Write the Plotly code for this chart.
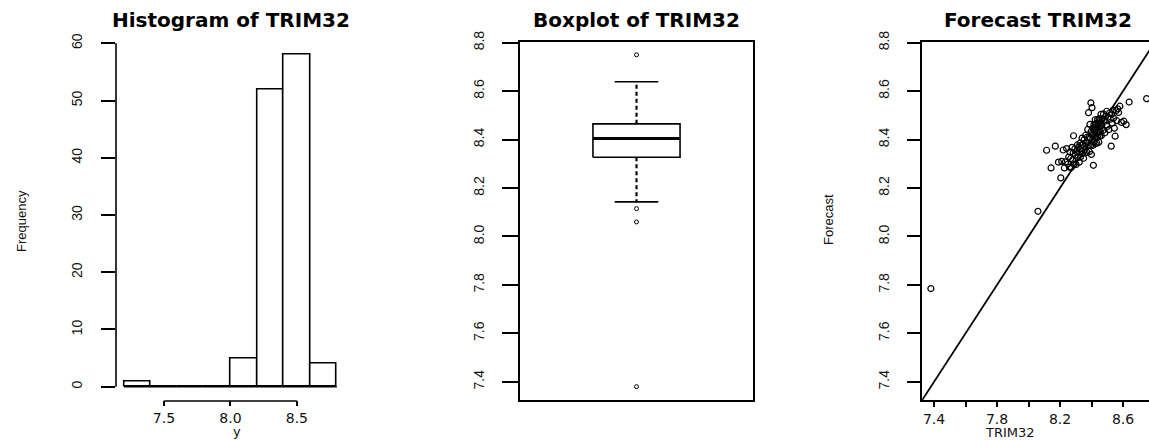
import plotly.graph_objects as go

W, H = 1149, 441

# ---------------- data ----------------
hist_edges = [7.2, 7.4, 7.6, 7.8, 8.0, 8.2, 8.4, 8.6, 8.8]
hist_counts = [1, 0, 0, 0, 5, 52, 58, 4]
hist_xticks = [7.5, 8.0, 8.5]
hist_yticks = [0, 10, 20, 30, 40, 50, 60]

# boxplot stats: lower whisker, Q1, median, Q3, upper whisker
box_stats = [8.143, 8.327, 8.405, 8.465, 8.639]
box_outliers = [8.75, 8.115, 8.06, 7.38]
val_ticks = [7.4, 7.6, 7.8, 8.0, 8.2, 8.4, 8.6, 8.8]

trim32 = [7.38,
          8.06, 8.115, 8.143, 8.17, 8.19,
          8.205, 8.211, 8.22, 8.228, 8.235, 8.242, 8.25, 8.255, 8.26, 8.263,
          8.268, 8.272, 8.276, 8.28, 8.284, 8.286, 8.29, 8.294, 8.298, 8.302,
          8.306, 8.31, 8.314, 8.318, 8.322, 8.325, 8.327, 8.33, 8.334, 8.337,
          8.34, 8.343, 8.346, 8.35, 8.353, 8.356, 8.36, 8.363, 8.366, 8.37,
          8.373, 8.376, 8.38, 8.381, 8.384, 8.387, 8.39, 8.392, 8.394, 8.396,
          8.398, 8.399,
          8.403, 8.406, 8.408, 8.41, 8.412, 8.413, 8.415, 8.417, 8.419, 8.421,
          8.423, 8.424, 8.426, 8.428, 8.43, 8.432, 8.434, 8.436, 8.438, 8.44,
          8.442, 8.444, 8.446, 8.448, 8.45, 8.452, 8.454, 8.456, 8.458, 8.46,
          8.462, 8.465, 8.468, 8.472, 8.476, 8.48, 8.485, 8.49, 8.495, 8.497,
          8.5, 8.505, 8.51, 8.515, 8.52, 8.525, 8.528, 8.532, 8.536, 8.54,
          8.545, 8.55, 8.556, 8.56, 8.566, 8.572, 8.58, 8.59,
          8.605, 8.62, 8.639, 8.75]
forecast = [7.785,
            8.104, 8.356, 8.283, 8.373, 8.307,
            8.242, 8.31, 8.357, 8.283, 8.308, 8.363, 8.299, 8.328, 8.286, 8.349,
            8.322, 8.285, 8.368, 8.316, 8.344, 8.416, 8.299, 8.362, 8.335, 8.297,
            8.35, 8.378, 8.326, 8.369, 8.307, 8.36, 8.386, 8.328, 8.376, 8.353,
            8.406, 8.343, 8.38, 8.323, 8.40, 8.372, 8.345, 8.418, 8.385, 8.348,
            8.41, 8.442, 8.375, 8.511, 8.408, 8.35, 8.463, 8.404, 8.376, 8.552,
            8.434, 8.339,
            8.532, 8.419, 8.376, 8.447, 8.294, 8.42, 8.461, 8.393, 8.439, 8.411,
            8.482, 8.383, 8.439, 8.466, 8.407, 8.454, 8.385, 8.437, 8.483, 8.41,
            8.466, 8.433, 8.389, 8.486, 8.452, 8.413, 8.48, 8.431, 8.468, 8.504,
            8.416, 8.458, 8.485, 8.438, 8.506, 8.479, 8.428, 8.497, 8.46, 8.517,
            8.454, 8.493, 8.441, 8.51, 8.484, 8.373, 8.505, 8.468, 8.521, 8.489,
            8.447, 8.414, 8.52, 8.478, 8.527, 8.512, 8.538, 8.471,
            8.476, 8.462, 8.555, 8.569]
scat_xticks = [7.4, 7.6, 7.8, 8.0, 8.2, 8.4, 8.6, 8.8]
scat_xlabels = ["7.4", "", "7.8", "", "8.2", "", "8.6", ""]

titles = ["Histogram of TRIM32", "Boxplot of TRIM32", "Forecast TRIM32"]

# ---------------- helpers ----------------
def px_x(p):
    return p / W

def px_y(p):
    return 1 - p / H

TOP, BOT = 41.5, 400.0
ydom = [px_y(BOT), px_y(TOP)]
BLACK = "#000000"
TICKFONT_X = dict(family="DejaVu Sans", size=14, color="#111111")
TICKFONT_Y = dict(family="Liberation Sans Narrow, Liberation Sans, Arial", size=14, color="#111111")

fig = go.Figure()

# ---------- histogram ----------
bin_centers = [(a + b) / 2 for a, b in zip(hist_edges[:-1], hist_edges[1:])]
bin_widths = [b - a for a, b in zip(hist_edges[:-1], hist_edges[1:])]
fig.add_trace(go.Bar(x=bin_centers, y=hist_counts, width=bin_widths,
                     marker=dict(color="white", line=dict(color=BLACK, width=1.6)),
                     xaxis="x", yaxis="y", showlegend=False))
# zero-height bars baseline (R draws degenerate rectangles)
fig.add_trace(go.Scatter(x=[hist_edges[0], hist_edges[-1]], y=[0, 0], mode="lines",
                         line=dict(color=BLACK, width=1.6), xaxis="x", yaxis="y",
                         showlegend=False, hoverinfo="skip"))

# ---------- boxplot ----------
lw, q1, med, q3, uw = box_stats
bx0, bx1, cx0, cx1 = 0.6, 1.4, 0.8, 1.2
fig.add_trace(go.Scatter(x=[bx0, bx1, bx1, bx0, bx0], y=[q1, q1, q3, q3, q1], mode="lines",
                         line=dict(color=BLACK, width=1.6), xaxis="x2", yaxis="y2", showlegend=False))
fig.add_trace(go.Scatter(x=[bx0, bx1], y=[med, med], mode="lines",
                         line=dict(color=BLACK, width=3), xaxis="x2", yaxis="y2", showlegend=False))
for a, b in [(q3, uw), (q1, lw)]:
    fig.add_trace(go.Scatter(x=[1, 1], y=[a, b], mode="lines",
                             line=dict(color=BLACK, width=2.2, dash="4px,3px"),
                             xaxis="x2", yaxis="y2", showlegend=False))
for v in [uw, lw]:
    fig.add_trace(go.Scatter(x=[cx0, cx1], y=[v, v], mode="lines",
                             line=dict(color=BLACK, width=1.6), xaxis="x2", yaxis="y2", showlegend=False))
fig.add_trace(go.Scatter(x=[1] * len(box_outliers), y=box_outliers, mode="markers",
                         marker=dict(symbol="circle-open", size=4, color=BLACK, line=dict(width=1)),
                         xaxis="x2", yaxis="y2", showlegend=False))

# ---------- scatter ----------
lo, hi = 7.325, 8.805
fig.add_trace(go.Scatter(x=[lo, hi], y=[lo, hi], mode="lines",
                         line=dict(color=BLACK, width=1.8), xaxis="x3", yaxis="y3", showlegend=False))
fig.add_trace(go.Scatter(x=trim32, y=forecast, mode="markers",
                         marker=dict(symbol="circle-open", size=6, color=BLACK, line=dict(width=1.2)),
                         xaxis="x3", yaxis="y3", showlegend=False))

common = dict(showgrid=False, zeroline=False, ticks="outside", tickcolor=BLACK, tickwidth=1.6,
              automargin=False)

fig.update_layout(
    width=W, height=H, margin=dict(l=0, r=0, t=0, b=0, autoexpand=False),
    paper_bgcolor="white", plot_bgcolor="white", showlegend=False, bargap=0,
    xaxis=dict(domain=[px_x(115.5), px_x(345.3)], range=[7.136, 8.864], anchor="y",
               tickvals=hist_xticks, ticktext=["7.5", "8.0", "8.5"], ticklen=5,
               showline=False, tickfont=TICKFONT_X, ticklabelstandoff=0, **common),
    yaxis=dict(domain=ydom, range=[-2.32, 60.32], anchor="x", tickvals=hist_yticks,
               tickangle=-90, ticklen=14, showline=False, tickfont=TICKFONT_Y,
               ticklabelstandoff=13, **common),
    xaxis2=dict(domain=[px_x(520), px_x(753)], range=[1 - 1.07, 1 + 1.07], anchor="y2",
                showticklabels=False, ticks="", showline=True, mirror=True,
                linecolor=BLACK, linewidth=1.6, showgrid=False, zeroline=False),
    yaxis2=dict(domain=ydom, range=[lo, hi], anchor="x2", tickvals=val_ticks,
                ticktext=[f"{v:.1f}" for v in val_ticks], tickangle=-90, ticklen=16,
                showline=True, mirror=True, linecolor=BLACK, linewidth=1.6,
                tickfont=TICKFONT_Y, ticklabelstandoff=13, **common),
    xaxis3=dict(domain=[px_x(922.2), 1.0], range=[lo, lo + (W - 922.2) / 157.5], anchor="y3",
                tickvals=scat_xticks, ticktext=scat_xlabels, ticklen=5,
                showline=True, mirror=True, linecolor=BLACK, linewidth=1.6,
                tickfont=TICKFONT_X, ticklabelstandoff=0, **common),
    yaxis3=dict(domain=ydom, range=[lo, hi], anchor="x3", tickvals=val_ticks,
                ticktext=[f"{v:.1f}" for v in val_ticks], tickangle=-90, ticklen=13,
                showline=True, mirror=False, linecolor=BLACK, linewidth=1.6,
                tickfont=TICKFONT_Y, ticklabelstandoff=13, **common),
)

# histogram axis lines (R style: only from first to last tick)
fig.add_shape(type="line", xref="x", yref="paper", x0=hist_xticks[0], x1=hist_xticks[-1],
              y0=px_y(401), y1=px_y(401), line=dict(color=BLACK, width=1.6))
fig.add_shape(type="line", xref="paper", yref="y", x0=px_x(116), x1=px_x(116),
              y0=hist_yticks[0], y1=hist_yticks[-1], line=dict(color=BLACK, width=1.6))

# titles
title_font = dict(family="DejaVu Sans", size=20, color=BLACK)
for t, cx in zip(titles, [231, 636, 1038]):
    fig.add_annotation(text=f"<b>{t}</b>", x=px_x(cx), y=px_y(20), xref="paper", yref="paper",
                       showarrow=False, font=title_font, xanchor="center", yanchor="middle")

# axis titles
lab_font = dict(family="DejaVu Sans", size=13, color="#111111")
narrow = dict(family="Liberation Sans Narrow, Liberation Sans, Arial", size=13, color="#111111")
fig.add_annotation(text="y", x=px_x(231), y=px_y(431), xref="paper", yref="paper",
                   showarrow=False, font=lab_font, yanchor="middle")
fig.add_annotation(text="TRIM32", x=px_x(1037), y=px_y(432), xref="paper", yref="paper",
                   showarrow=False, font=lab_font, yanchor="middle")
fig.add_annotation(text="Frequency", x=px_x(22), y=px_y(221), xref="paper", yref="paper",
                   showarrow=False, font=narrow, textangle=-90, xanchor="center", yanchor="middle")
fig.add_annotation(text="Forecast", x=px_x(828), y=px_y(220), xref="paper", yref="paper",
                   showarrow=False, font=narrow, textangle=-90, xanchor="center", yanchor="middle")

fig.write_html("out.html", config={"displayModeBar": False},
               post_script="document.body.style.margin='0';")
